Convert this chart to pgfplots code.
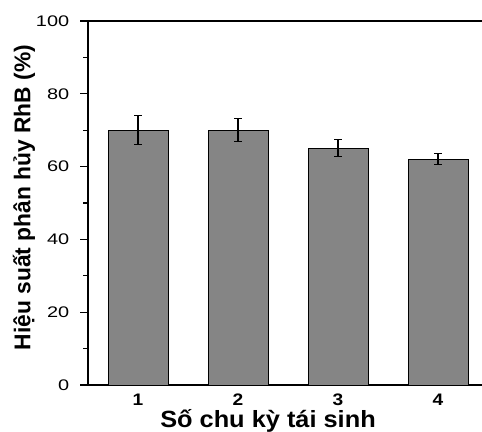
\documentclass[border=0pt]{standalone}
\usepackage{pgfplots}
\pgfplotsset{compat=1.18}
\usepackage{fontspec}
\setmainfont{Liberation Sans}
\begin{document}
\begin{tikzpicture}[x=1pt,y=1pt]
\useasboundingbox (0,0) rectangle (361.5,324);
\begin{axis}[
  at={(66pt,35.25pt)}, anchor=south west,
  scale only axis, width=300pt, height=273pt,
  xmin=0.5, xmax=4.5, ymin=0, ymax=100,
  xtick={1,2,3,4}, xticklabels={1,2,3,4},
  ytick={0,20,40,60,80,100}, minor ytick={10,30,50,70,90},
  tick align=outside, tick pos=left,
  major tick length=6pt, minor tick length=3.75pt,
  xtick style={draw=none},
  axis line style={line width=1.2pt},
  every tick/.style={line width=0.9pt, black},
  /pgf/number format/assume math mode=true,
  yticklabel style={font=\fontsize{11.5}{12}\selectfont, xscale=1.3, anchor=east, inner sep=0pt, xshift=-6pt},
  xticklabel style={font=\bfseries\fontsize{12.5}{13}\selectfont, xscale=1.15, anchor=base, inner sep=0pt, yshift=-9pt},
  ylabel={Hiệu suất phân hủy RhB (\%)},
  ylabel style={font=\bfseries\fontsize{17.1}{18}\selectfont, at={(axis description cs:-0.16,0.515)}, anchor=center},
  xlabel={Số chu kỳ tái sinh},
  xlabel style={font=\bfseries\fontsize{17.6}{20}\selectfont, xscale=1.08, at={(axis description cs:0.45,-0.1156)}, anchor=base},
]
\addplot[ybar, bar width=45pt, fill=black!48, draw=black, line width=0.6pt,
  error bars/.cd, y dir=both, y explicit,
  error bar style={black, line width=0.8pt},
  error mark options={rotate=90, mark size=2.7pt, line width=0.8pt, black}]
  coordinates {(1,70) +- (0,4) (2,70) +- (0,3.1) (3,65) +- (0,2.35) (4,62) +- (0,1.55)};
\end{axis}
\end{tikzpicture}
\end{document}
